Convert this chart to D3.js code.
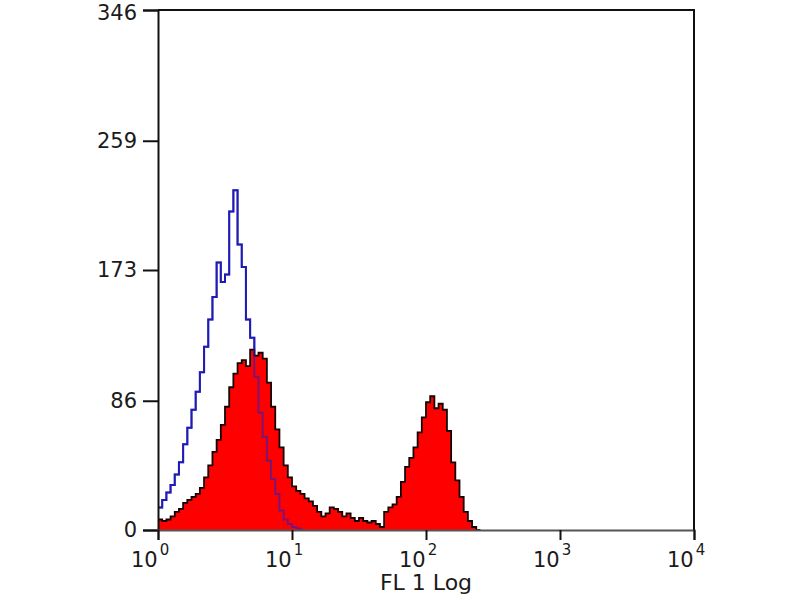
<!DOCTYPE html>
<html>
<head>
<meta charset="utf-8">
<script src="https://cdn.jsdelivr.net/npm/d3@7"></script>
<style>
  body { margin: 0; background: #fff; }
  svg text { font-family: "DejaVu Sans", sans-serif; fill: #1a1a1a; }
</style>
</head>
<body>
<svg width="800" height="600"></svg>
<script>
// histogram channels, 32 per decade starting at 10^0
const binsPerDecade = 32;

// stained sample (filled red)
const redCounts = [
  7, 6, 7, 9, 12, 14, 18, 20, 22, 24,
  28, 35, 43, 52, 60, 70, 82, 95, 104, 111,
  113, 109, 120, 116, 118, 114, 98, 82, 67, 55,
  43, 35, 29, 26, 24, 21, 19, 16, 12, 9,
  11, 15, 14, 12, 9, 11, 8, 6, 8, 6,
  5, 6, 4, 2, 12, 15, 17, 22, 32, 42,
  48, 55, 65, 75, 85, 89, 81, 84, 80, 66,
  45, 33, 22, 12, 6, 2, 0
];

// isotype control (blue outline)
const blueCounts = [
  15, 20, 25, 30, 37, 45, 57, 68, 80, 92,
  105, 122, 140, 155, 178, 165, 170, 212, 226, 190,
  175, 140, 128, 102, 78, 62, 46, 34, 24, 13,
  7, 4, 2, 1, 0
];

const yTicks = [0, 86, 173, 259, 346];
const xDecades = [0, 1, 2, 3, 4];
const xTitle = 'FL 1 Log';

const svg = d3.select('svg');
const plotLeft = 158, plotRight = 694, plotTop = 10, plotBottom = 530;

const x = d3.scaleLog().domain([1, 1e4]).range([plotLeft, plotRight]);
const y = d3.scaleLinear().domain([0, 346]).range([plotBottom, plotTop]);

function toSteps(counts) {
  const pts = counts.map((c, i) => ({ lo: Math.pow(10, i / binsPerDecade), c: c }));
  pts.push({ lo: Math.pow(10, counts.length / binsPerDecade), c: counts[counts.length - 1] });
  return pts;
}

const redPts = toSteps(redCounts);
const bluePts = toSteps(blueCounts);

const area = d3.area()
  .curve(d3.curveStepAfter)
  .x(d => x(d.lo))
  .y0(y(0))
  .y1(d => y(d.c));

const line = d3.line()
  .curve(d3.curveStepAfter)
  .x(d => x(d.lo))
  .y(d => y(d.c));

// blue first so the red covers it, then again faint on top -> purple inside red
svg.append('path')
  .datum(bluePts)
  .attr('d', line)
  .attr('fill', 'none')
  .attr('stroke', '#1414a8')
  .attr('stroke-width', 2);

svg.append('path')
  .datum(redPts)
  .attr('d', area)
  .attr('fill', '#ff0000')
  .attr('stroke', 'none');

svg.append('path')
  .datum(redPts)
  .attr('d', line)
  .attr('fill', 'none')
  .attr('stroke', '#140000')
  .attr('stroke-width', 1.8);

svg.append('path')
  .datum(bluePts)
  .attr('d', line)
  .attr('fill', 'none')
  .attr('stroke', '#2a20c0')
  .attr('stroke-opacity', 0.6)
  .attr('stroke-width', 2);

// y axis
const yAxis = svg.append('g')
  .attr('transform', `translate(${plotLeft},0)`)
  .call(d3.axisLeft(y).tickValues(yTicks).tickSize(15).tickPadding(6));
yAxis.select('.domain').attr('stroke', '#111').attr('stroke-width', 2);
yAxis.selectAll('.tick line').attr('stroke', '#111').attr('stroke-width', 2);
yAxis.selectAll('.tick text')
  .attr('font-size', 21)
  .attr('font-family', '"DejaVu Sans", sans-serif')
  .attr('fill', '#1a1a1a')
  .attr('dy', d => d === 346 ? '0.45em' : '0.32em');

// x axis
const xAxis = svg.append('g')
  .attr('transform', `translate(0,${plotBottom})`)
  .call(d3.axisBottom(x).tickValues(xDecades.map(p => Math.pow(10, p))).tickSize(10).tickFormat(''));
xAxis.select('.domain').attr('stroke', '#555').attr('stroke-width', 2);
xAxis.selectAll('.tick line').attr('stroke', '#111').attr('stroke-width', 2);

const xLabels = svg.append('g').selectAll('text')
  .data(xDecades)
  .enter().append('text')
  .attr('x', d => x(Math.pow(10, d)) - 27)
  .attr('y', 567)
  .attr('font-size', 21);
xLabels.append('tspan').text('10');
xLabels.append('tspan')
  .attr('dx', 2)
  .attr('dy', -12)
  .attr('font-size', 15)
  .text(d => d);

svg.append('text')
  .attr('x', (plotLeft + plotRight) / 2)
  .attr('y', 590)
  .attr('text-anchor', 'middle')
  .attr('font-size', 22)
  .text(xTitle);

// frame top and right
svg.append('path')
  .attr('d', `M${plotLeft},${plotTop}H${plotRight}V${plotBottom}`)
  .attr('fill', 'none')
  .attr('stroke', '#111')
  .attr('stroke-width', 2);
</script>
</body>
</html>
